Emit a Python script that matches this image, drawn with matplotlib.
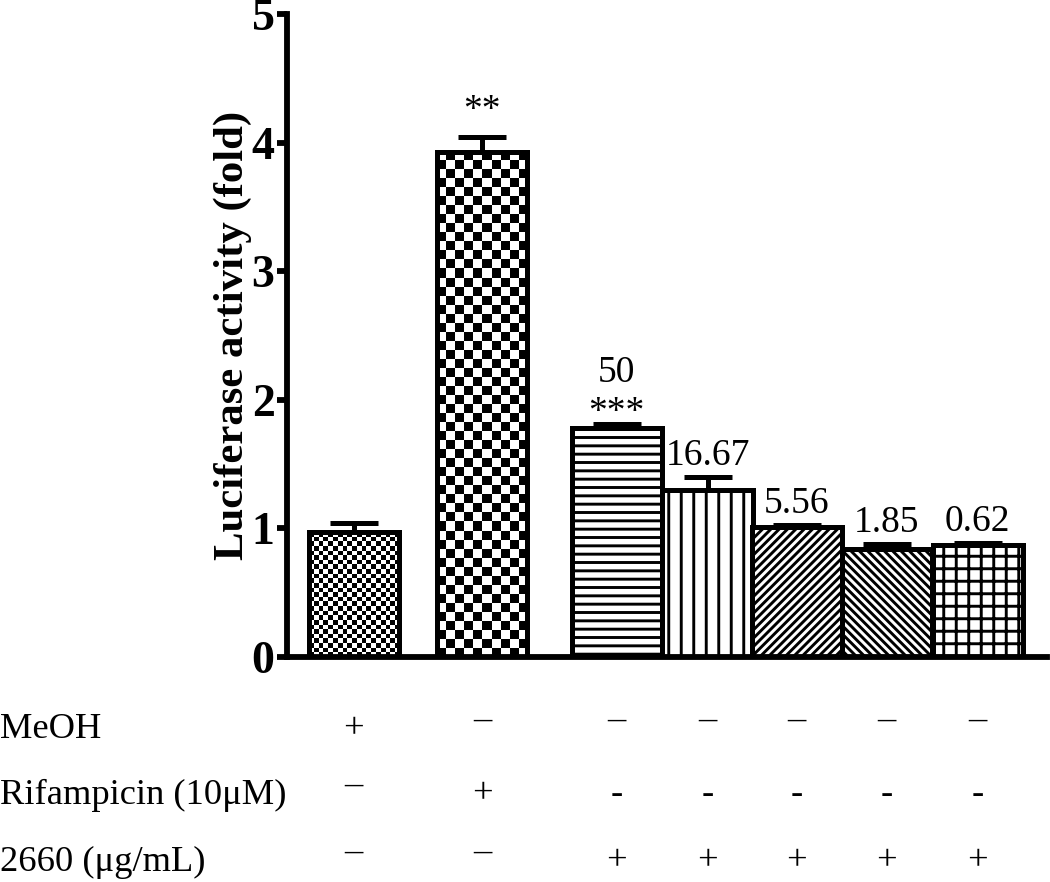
import numpy as np
import matplotlib
matplotlib.use("Agg")
import matplotlib.pyplot as plt
from matplotlib.transforms import blended_transform_factory

# ---- data ----
values = [0.97, 3.93, 1.78, 1.30, 1.01, 0.84, 0.87]
errors = [0.07, 0.11, 0.03, 0.10, 0.02, 0.04, 0.02]
positions = [0.0, 1.43, 2.92, 3.93, 4.92, 5.92, 6.93]
star_labels = ["", "**", "***", "", "", "", ""]
num_labels = ["", "", "50", "16.67", "5.56", "1.85", "0.62"]
row_names = ["MeOH", "Rifampicin (10\u03bcM)", "2660 (\u03bcg/mL)"]
row_signs = [
    ["+", "\u2013", "\u2013", "\u2013", "\u2013", "\u2013", "\u2013"],
    ["\u2013", "+", "-", "-", "-", "-", "-"],
    ["\u2013", "\u2013", "+", "+", "+", "+", "+"],
]
yticks = [0, 1, 2, 3, 4, 5]

hatches = [None, None, "---", "||", "//////", "\\\\\\\\\\\\", "++"]
checker_px = [4.7, 9.0, None, None, None, None, None]

plt.rcParams["font.family"] = ["Liberation Serif", "DejaVu Serif"]
plt.rcParams["hatch.linewidth"] = 1.4

DPI = 150
fig = plt.figure(figsize=(1050 / DPI, 882 / DPI), dpi=DPI)
ax = fig.add_axes([287 / 1050, 1 - 657 / 882, (1047 - 287) / 1050, (657 - 14) / 882])

width = 1.0
lw = 2.4
bars = ax.bar(positions, values, width=width, color="white", edgecolor="black",
              linewidth=lw, zorder=2)
for b, h in zip(bars, hatches):
    if h:
        b.set_hatch(h)

ax.set_xlim(-0.74, 7.7)
ax.set_ylim(0, 5)

# checkerboard fills
px_per_x = (1047 - 287) / (7.7 + 0.74)
px_per_y = (657 - 14) / 5.0
for b, v, cp in zip(bars, values, checker_px):
    if cp is None:
        continue
    nx = int(round(width * px_per_x / cp))
    ny = int(round(v * px_per_y / cp))
    arr = (np.add.outer(np.arange(ny), np.arange(nx)) % 2).astype(float)
    x0 = b.get_x()
    im = ax.imshow(arr, cmap="gray", vmin=0, vmax=1, interpolation="nearest",
                   extent=[x0, x0 + width, 0, v], origin="lower", aspect="auto",
                   zorder=2.5)
    im.set_clip_path(b)
    ax.bar([b.get_x() + width / 2], [v], width=width, facecolor="none",
           edgecolor="black", linewidth=lw, zorder=3)

ax.set_aspect("auto")
ax.set_xlim(-0.74, 7.7)
ax.set_ylim(0, 5)

ax.errorbar(positions, values, yerr=[np.zeros(len(errors)), errors], fmt="none",
            ecolor="black", elinewidth=2.4, capsize=11.5, capthick=2.4, zorder=4)

for x, v, e, st, nm in zip(positions, values, errors, star_labels, num_labels):
    if st:
        off = 4.6 if st == "**" else -2.6
        ax.annotate(st, xy=(x, v + e), xytext=(0, off), textcoords="offset points",
                    ha="center", va="bottom", fontsize=18)
    if nm:
        off = 16.5 if st else 1.8
        ax.annotate(nm, xy=(x, v + e), xytext=(0, off), textcoords="offset points",
                    ha="center", va="bottom", fontsize=18)

for s in ["top", "right"]:
    ax.spines[s].set_visible(False)
for s in ["left", "bottom"]:
    ax.spines[s].set_linewidth(2.8)
ax.set_xticks([])
ax.set_yticks(yticks)
ax.set_yticklabels([str(t) for t in yticks], fontsize=22, fontweight="bold")
ax.tick_params(axis="y", length=5, width=2.8, pad=1)
ax.set_ylabel("Luciferase activity (fold)", fontsize=20.5, fontweight="bold", labelpad=0)

trans = blended_transform_factory(ax.transData, fig.transFigure)
row_y = [1 - 730 / 882, 1 - 795 / 882, 1 - 862 / 882]
for name, yy, signs in zip(row_names, row_y, row_signs):
    fig.text(0.0, yy, name, ha="left", va="center", fontsize=17.5)
    for x, s in zip(positions, signs):
        dy = 0.011 if s == "\u2013" else 0.0
        fig.text(x, yy + dy, s, ha="center", va="center", fontsize=17.5,
                 fontweight="light", transform=trans)

fig.savefig("out.png", dpi=DPI)
